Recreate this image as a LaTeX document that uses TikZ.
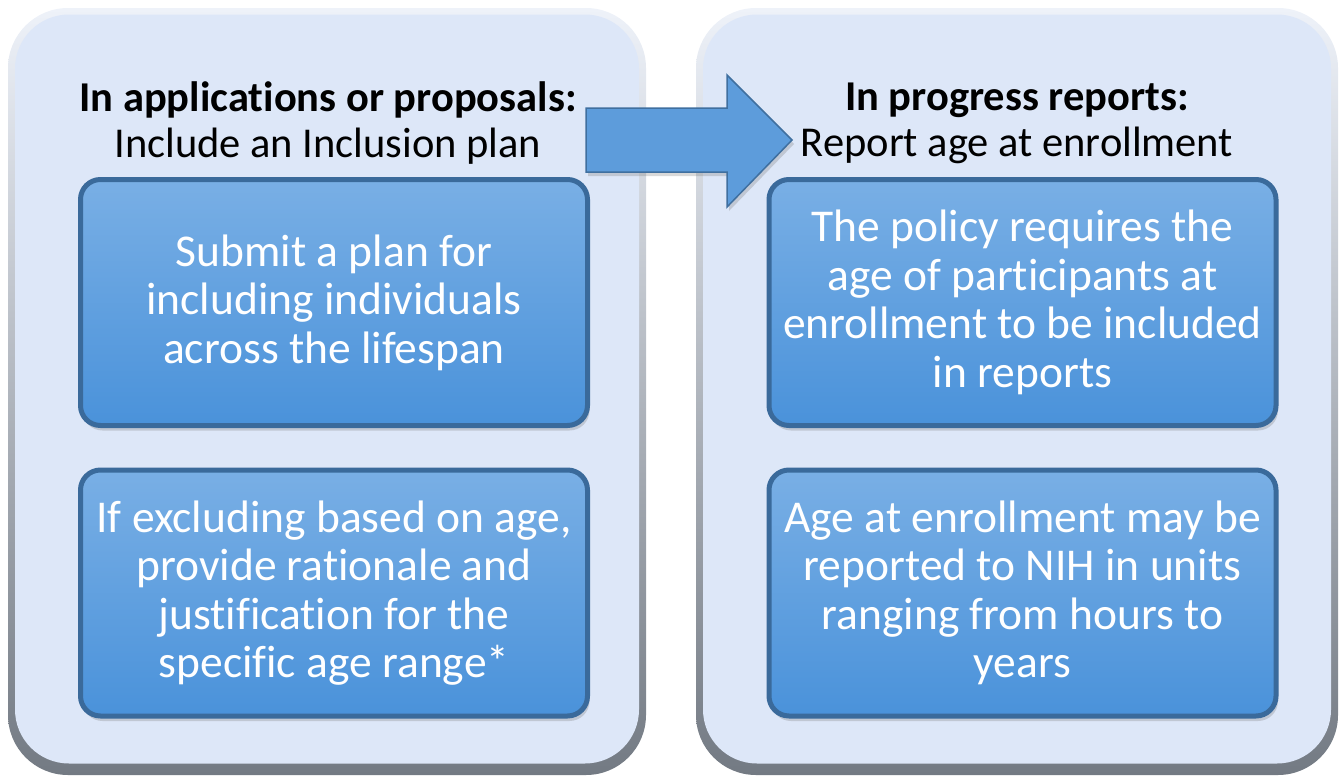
\documentclass[tikz,border=0pt]{standalone}
\usepackage{fontspec}
\setmainfont[Ligatures=NoCommon]{Carlito}
\usepackage{xcolor}
\usepackage{tikz}
\usetikzlibrary{shadows}

\definecolor{panelfill}{HTML}{DDE7F8}
\definecolor{panelhi}{HTML}{EEF2F9}
\definecolor{panelmid}{HTML}{B4BCC7}
\definecolor{panellow}{HTML}{737A83}
\definecolor{boxtop}{HTML}{79AFE5}
\definecolor{boxbot}{HTML}{4A92DA}
\definecolor{boxedge}{HTML}{3A6A9B}
\definecolor{arrowfill}{HTML}{5D9CDB}
\definecolor{arrowedge}{HTML}{3F6F9F}

\tikzset{
	rim/.style={rounded corners=60pt, top color=panelhi, middle color=panelmid, bottom color=panellow,
		minimum width=#1, minimum height=767pt, inner sep=0pt},
	panel/.style={rounded corners=54pt, fill=panelfill,
		minimum width=#1, minimum height=749pt, inner sep=0pt},
	box/.style={rounded corners=20pt, top color=boxtop, bottom color=boxbot,
		draw=boxedge, line width=5pt, minimum width=507pt, minimum height=246pt,
		align=center, text=white, inner sep=0pt,
		font=\fontsize{45.5}{48.5}\selectfont,
		drop shadow={opacity=0.3, shadow xshift=2pt, shadow yshift=-5pt}},
	head/.style={align=center, font=\fontsize{42.5}{46}\selectfont}
}

\begin{document}
\begin{tikzpicture}[x=1pt, y=-1pt]
	\useasboundingbox (0,0) rectangle (1344,779);

	% Make panels
	\node[rim=638pt] (leftrim) at (327,391.5) {};
	\node[panel=624pt] (left) at (327,389) {};
	\node[rim=642pt] (rightrim) at (1017,391.5) {};
	\node[panel=628pt] (right) at (1017,389) {};

	% Headings
	\node[head] (lefthead) at (328,123) {\textbf{In applications or proposals:}\\Include an Inclusion plan};
	\node[head] (righthead) at (1017,123) {\textbf{In progress reports:}\\Report age at enrollment};

	% Make boxes
	\foreach \name/\x/\y/\txt in {
		plan/334/302.5/{Submit a plan for\\including individuals\\across the lifespan},
		exclude/334/593/{If excluding based on age,\\provide rationale and\\justification for the\\specific age range*},
		policy/1022.5/302.5/{The policy requires the\\age of participants at\\enrollment to be included\\in reports},
		units/1022.5/593/{Age at enrollment may be\\reported to NIH in units\\ranging from hours to\\years}} {
		\node[box] (\name) at (\x,\y) {\txt};
	}

	% Arrow between the panels
	\draw[fill=arrowfill, draw=arrowedge, line width=1.5pt, line join=miter,
		drop shadow={opacity=0.3, shadow xshift=2pt, shadow yshift=-4pt}]
		(586,108) -- (727,108) -- (727,75) -- (792,140) -- (727,207) -- (727,172) -- (586,172) -- cycle;
\end{tikzpicture}
\end{document}
